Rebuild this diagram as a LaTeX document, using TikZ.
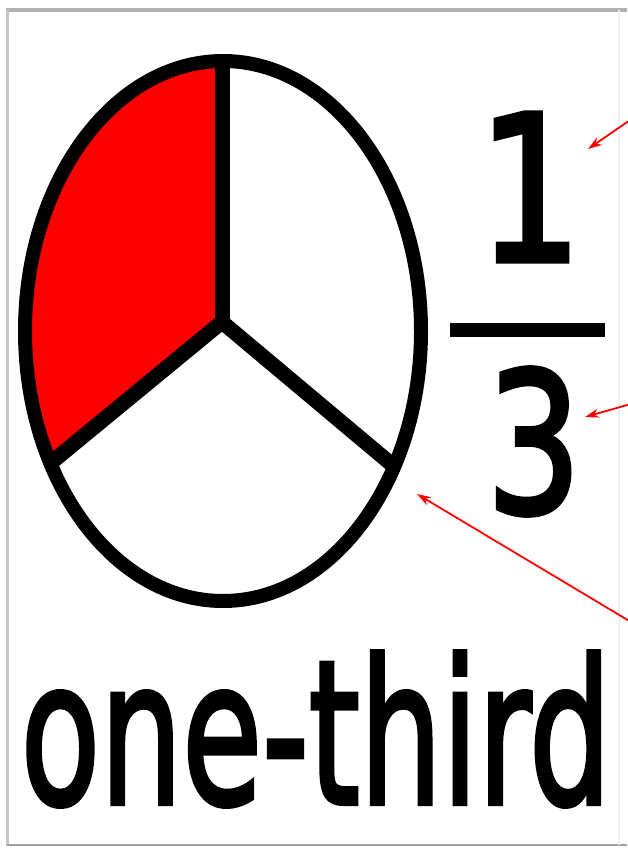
\documentclass[tikz,border=0pt]{standalone}
\usepackage{fontspec}
\setmainfont{DejaVu Sans}
\newfontfamily\heavyish[FakeBold=2.5]{DejaVu Sans}
\usetikzlibrary{arrows.meta,calc}
\begin{document}
\begin{tikzpicture}[x=1pt,y=-1pt,
  outline/.style={line width=14pt,black},
  spoke/.style={line width=15pt,black},
  pointer/.style={red,line width=1.8pt,-{Stealth[length=14pt,width=9pt]}},
  frameline/.style={line width=#1}]
\useasboundingbox (0,0) rectangle (627,848);
\fill[white] (0,0) rectangle (627,848);
% frame
\draw[frameline=4pt,gray!60] (6,10) -- (627,10);
\draw[frameline=3pt,gray!45] (7.5,10) -- (7.5,846);
\draw[frameline=2.5pt,gray!75] (7,845) -- (627,845);
\draw[frameline=2pt,gray!12] (619,10) -- (619,845);
% pie
\coordinate (C) at (222,322);
\begin{scope}
  \clip (223,331) ellipse [x radius=198, y radius=270];
  \fill[red] (C) -- (222,20) -- (-10,20) -- (-10,322+232/164*135) -- cycle;
  \draw[spoke] (C) -- (222,20);
  \draw[spoke] (C) -- ($(C)+2*(-164,135)$);
  \draw[spoke] (C) -- ($(C)+2*(168,141)$);
\end{scope}
\draw[outline] (223,331) ellipse [x radius=198, y radius=270];
% fraction
\node[inner sep=0pt] (num) at (530,187) {\resizebox{105pt}{148pt}{\heavyish 1}};
\node[inner sep=0pt] (bar) at (527.5,330) {\rule{155pt}{14pt}};
\node[inner sep=0pt] (den) at (534,441.5) {\resizebox{95pt}{145pt}{\heavyish 3}};
\node[inner sep=0pt] (word) at (316,729) {\resizebox{590pt}{152pt}{\heavyish one-third}};
% pointers
\coordinate (p1s) at (636,116);
\coordinate (p1e) at (588,149);
\coordinate (p2s) at (636,402.5);
\coordinate (p2e) at (585,417);
\coordinate (p3s) at (636,625);
\coordinate (p3e) at (417,494);
\draw[pointer] (p1s) -- (p1e);
\draw[pointer] (p2s) -- (p2e);
\draw[pointer] (p3s) -- (p3e);
\end{tikzpicture}
\end{document}
